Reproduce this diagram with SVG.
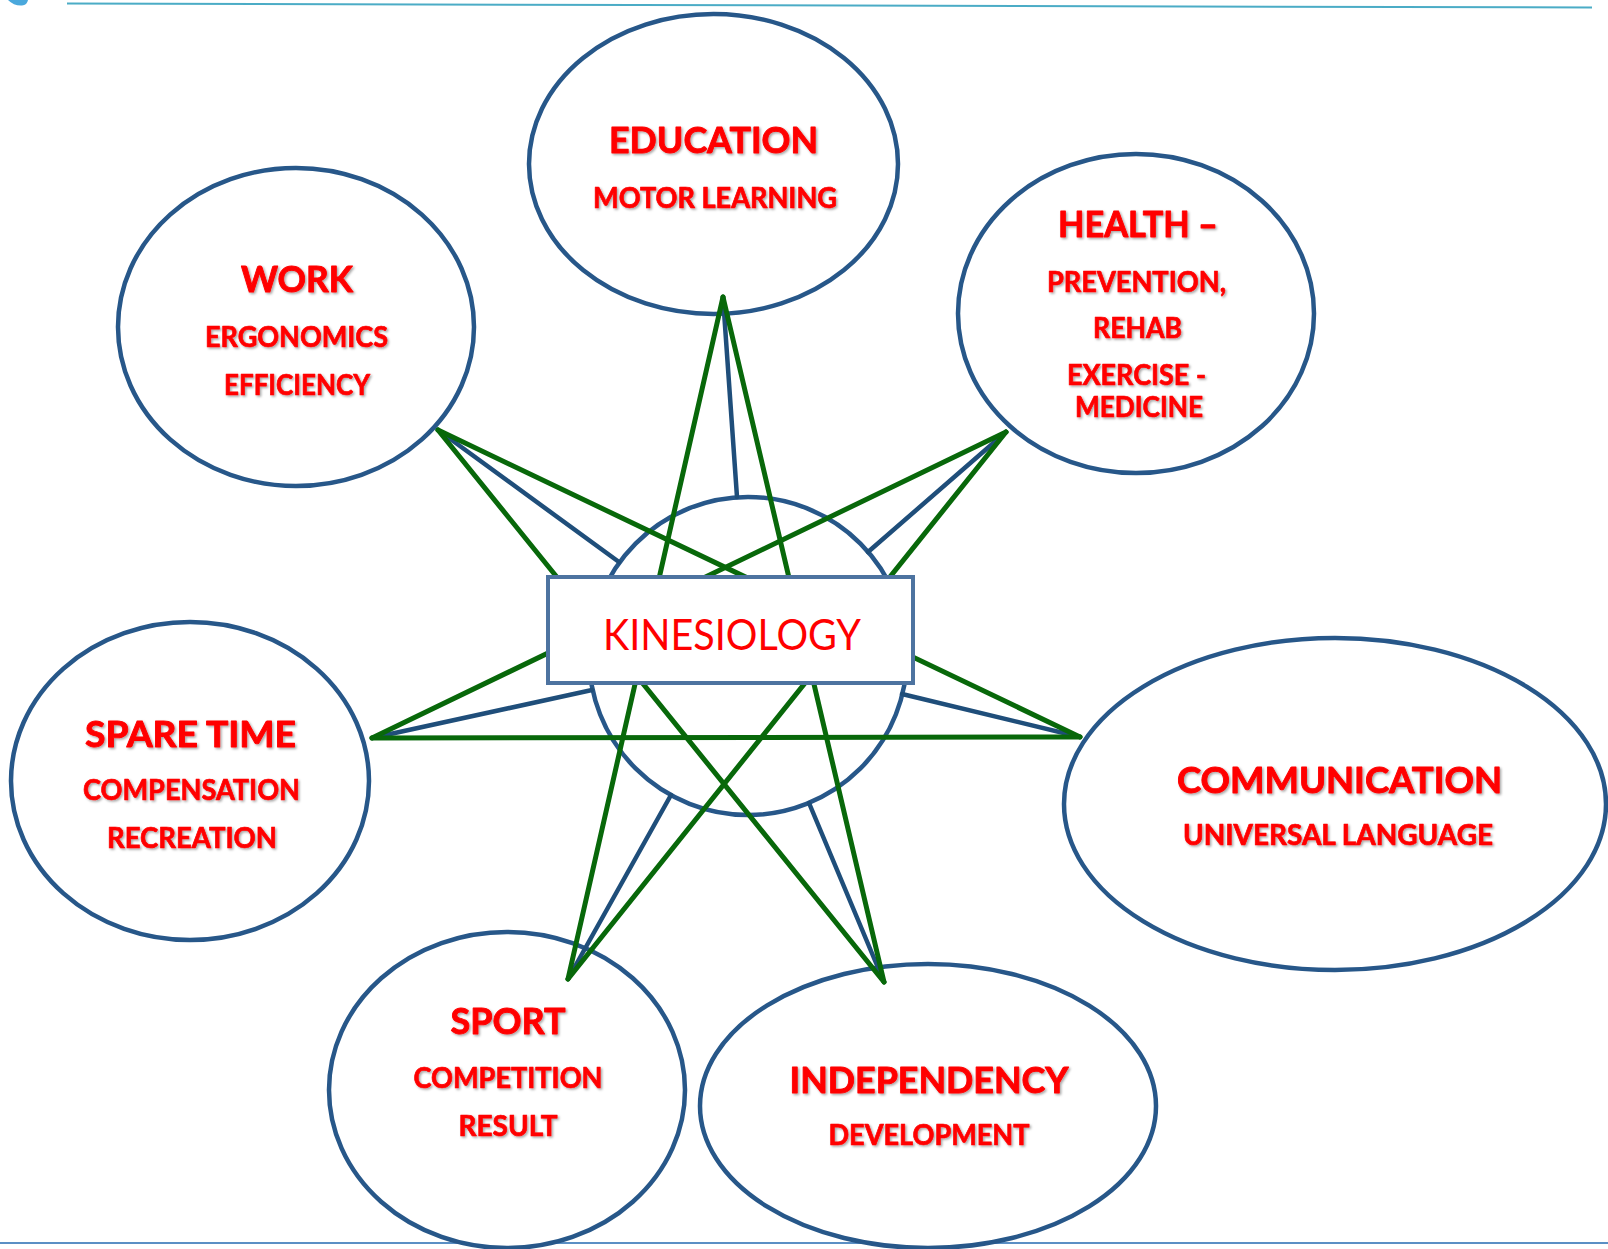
<svg xmlns="http://www.w3.org/2000/svg" width="1608" height="1249" viewBox="0 0 1608 1249">
  <defs>
    <filter id="shadow" x="-5%" y="-20%" width="110%" height="150%">
      <feDropShadow dx="1.5" dy="1.5" stdDeviation="0.8" flood-color="#000" flood-opacity="0.35"/>
    </filter>
  </defs>
  <style>
    .bubble { fill: #ffffff; stroke: #275789; stroke-width: 4.5; }
    .hub { fill: #ffffff; stroke: #275789; stroke-width: 4.5; }
    .spoke { stroke: #1f4e7a; stroke-width: 4.5; stroke-linecap: round; fill: none; }
    .star { stroke: #08680a; stroke-width: 5; stroke-linecap: round; fill: none; }
    .title { font-family: Lato, "Liberation Sans", sans-serif; font-weight: 700; font-size: 36px; fill: #ff0000; stroke: #ff0000; stroke-width: 0.9; stroke-linejoin: round; text-anchor: middle; filter: url(#shadow); }
    .sub { font-family: Lato, "Liberation Sans", sans-serif; font-weight: 700; font-size: 29px; fill: #ff0000; stroke: #ff0000; stroke-width: 0.7; stroke-linejoin: round; text-anchor: middle; filter: url(#shadow); }
    .core { font-family: Lato, "Liberation Sans", sans-serif; font-weight: 400; font-size: 42px; fill: #ff0000; text-anchor: middle; }
  </style>

  <!-- page rules -->
  <g id="page-rules">
    <path d="M8 0 Q14 6 22 5.5 Q27 5 28 0 Z" fill="#4aa8dc"/>
    <line x1="67" y1="3.5" x2="1592" y2="7.5" stroke="#4bacc6" stroke-width="2"/>
    <line x1="0" y1="1243" x2="1608" y2="1243" stroke="#5b8fc4" stroke-width="2"/>
  </g>

  <!-- outer bubbles -->
  <g id="education"><ellipse class="bubble" cx="713.5" cy="164" rx="184.5" ry="150"/></g>
  <g id="work"><ellipse class="bubble" cx="296" cy="327" rx="178" ry="159"/></g>
  <g id="health"><ellipse class="bubble" cx="1136" cy="313.5" rx="178" ry="159.5"/></g>
  <g id="spare-time"><ellipse class="bubble" cx="190" cy="781" rx="179" ry="159"/></g>
  <g id="communication"><ellipse class="bubble" cx="1335" cy="804" rx="271" ry="166"/></g>
  <g id="sport"><ellipse class="bubble" cx="507" cy="1090" rx="178" ry="158"/></g>
  <g id="independency"><ellipse class="bubble" cx="928" cy="1106" rx="228" ry="142"/></g>

  <!-- central circle -->
  <g id="hub-circle"><circle class="hub" cx="748" cy="656" r="159"/></g>

  <!-- connectors -->
  <g id="connectors">
    <!-- spokes: bubble anchor to the hub circle -->
    <line class="spoke" x1="723" y1="297" x2="737" y2="497"/>
    <line class="spoke" x1="438" y1="430" x2="619" y2="562"/>
    <line class="spoke" x1="1006" y1="432" x2="868" y2="552"/>
    <line class="spoke" x1="372" y1="738" x2="592" y2="690"/>
    <line class="spoke" x1="1080" y1="737" x2="902" y2="694"/>
    <line class="spoke" x1="568" y1="979" x2="671" y2="795"/>
    <line class="spoke" x1="884" y1="982" x2="809" y2="803"/>
    <!-- seven-pointed star between the anchors -->
    <line class="star" x1="723" y1="297" x2="568" y2="979"/>
    <line class="star" x1="723" y1="297" x2="884" y2="982"/>
    <line class="star" x1="438" y1="430" x2="884" y2="982"/>
    <line class="star" x1="438" y1="430" x2="1080" y2="737"/>
    <line class="star" x1="1006" y1="432" x2="568" y2="979"/>
    <line class="star" x1="1006" y1="432" x2="372" y2="738"/>
    <line class="star" x1="372" y1="738" x2="1080" y2="737"/>
  </g>

  <!-- central label box -->
  <g id="kinesiology">
    <rect x="548" y="577" width="365" height="106" fill="#ffffff" stroke="#4d73a0" stroke-width="4"/>
    <text class="core" x="732" y="650" textLength="258" lengthAdjust="spacingAndGlyphs">KINESIOLOGY</text>
  </g>

  <!-- bubble labels -->
  <g id="education-label">
    <text class="title" x="713.5" y="153" textLength="209" lengthAdjust="spacingAndGlyphs">EDUCATION</text>
    <text class="sub" x="715" y="208" textLength="244" lengthAdjust="spacingAndGlyphs">MOTOR LEARNING</text>
  </g>
  <g id="work-label">
    <text class="title" x="297" y="292" textLength="112" lengthAdjust="spacingAndGlyphs">WORK</text>
    <text class="sub" x="296.5" y="347" textLength="183" lengthAdjust="spacingAndGlyphs">ERGONOMICS</text>
    <text class="sub" x="297" y="395" textLength="146" lengthAdjust="spacingAndGlyphs">EFFICIENCY</text>
  </g>
  <g id="health-label">
    <text class="title" x="1138" y="237" textLength="160" lengthAdjust="spacingAndGlyphs">HEALTH –</text>
    <text class="sub" x="1136.5" y="292" textLength="179" lengthAdjust="spacingAndGlyphs">PREVENTION,</text>
    <text class="sub" x="1137.5" y="338" textLength="89" lengthAdjust="spacingAndGlyphs">REHAB</text>
    <text class="sub" x="1136.5" y="385" textLength="139" lengthAdjust="spacingAndGlyphs">EXERCISE -</text>
    <text class="sub" x="1139" y="417" textLength="128" lengthAdjust="spacingAndGlyphs">MEDICINE</text>
  </g>
  <g id="spare-time-label">
    <text class="title" x="190.5" y="747" textLength="211" lengthAdjust="spacingAndGlyphs">SPARE TIME</text>
    <text class="sub" x="191.5" y="800" textLength="217" lengthAdjust="spacingAndGlyphs">COMPENSATION</text>
    <text class="sub" x="192" y="848" textLength="170" lengthAdjust="spacingAndGlyphs">RECREATION</text>
  </g>
  <g id="communication-label">
    <text class="title" x="1339.5" y="793" textLength="325" lengthAdjust="spacingAndGlyphs">COMMUNICATION</text>
    <text class="sub" x="1338" y="845" textLength="310" lengthAdjust="spacingAndGlyphs">UNIVERSAL LANGUAGE</text>
  </g>
  <g id="sport-label">
    <text class="title" x="508" y="1034" textLength="115" lengthAdjust="spacingAndGlyphs">SPORT</text>
    <text class="sub" x="508" y="1088" textLength="189" lengthAdjust="spacingAndGlyphs">COMPETITION</text>
    <text class="sub" x="508" y="1136" textLength="99" lengthAdjust="spacingAndGlyphs">RESULT</text>
  </g>
  <g id="independency-label">
    <text class="title" x="929" y="1093" textLength="279" lengthAdjust="spacingAndGlyphs">INDEPENDENCY</text>
    <text class="sub" x="929" y="1145" textLength="201" lengthAdjust="spacingAndGlyphs">DEVELOPMENT</text>
  </g>
</svg>
